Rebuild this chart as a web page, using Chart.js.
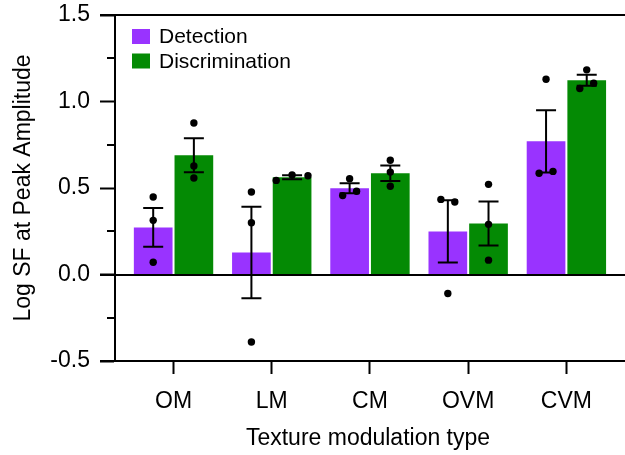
<!DOCTYPE html>
<html>
<head>
<meta charset="utf-8">
<script src="https://cdn.jsdelivr.net/npm/chart.js@4.4.1/dist/chart.umd.min.js"></script>
<style>
  html, body { margin: 0; padding: 0; background: #fff; }
  #wrap { width: 625px; height: 455px; }
</style>
</head>
<body>
<div id="wrap"><canvas id="chart" width="625" height="455"></canvas></div>
<script>
const categories = ['OM', 'LM', 'CM', 'OVM', 'CVM'];

// group means and SEM
const detectionMean = [0.272, 0.127, 0.498, 0.249, 0.770];
const detectionSem = [0.112, 0.265, 0.029, 0.180, 0.180];
const discriminationMean = [0.689, 0.562, 0.585, 0.295, 1.123];
const discriminationSem = [0.098, 0.012, 0.045, 0.127, 0.032];

// single observers, one row per modulation type
const detectionPoints = [
  [0.448, 0.313, 0.071],
  [0.477, 0.299, -0.390],
  [0.554, 0.456, 0.481],
  [0.434, 0.419, -0.110],
  [1.129, 0.585, 0.596]
];
const discriminationPoints = [
  [0.876, 0.627, 0.558],
  [0.544, 0.575, 0.571],
  [0.660, 0.592, 0.510],
  [0.521, 0.290, 0.083],
  [1.183, 1.075, 1.106]
];

const yMajor = [-0.5, 0.0, 0.5, 1.0, 1.5];
const yMinor = [-0.25, 0.25, 0.75, 1.25];

// layout bits
const PURPLE = '#9933FF';
const GREEN = '#048A04';
const FONT = "'Liberation Sans', Arial, sans-serif";
const CAT_PX = 99;      // width of one category on the x scale
const BAR_SHIFT = 20.5; // bar centre offset from category centre
const detectionSpread = [[0, 0, 0], [0, 0, 0], [0, -7, 7], [-7, 7, 0], [0, -7, 7]];
const discriminationSpread = [[0, 0, 0], [-16, 0, 16], [0, 0, 0], [0, 0, 0], [0, -7, 7]];

Chart.defaults.font.family = FONT;
Chart.defaults.font.size = 23;
Chart.defaults.color = '#000';

function dots(points, spread, shift) {
  const out = [];
  points.forEach((row, i) => {
    row.forEach((v, j) => {
      out.push({ x: i + (shift + spread[i][j]) / CAT_PX, y: v });
    });
  });
  return out;
}

const frame = {
  id: 'frame',
  afterDatasetDraw(chart, args) {
    if (args.index !== 0) return;
    const ctx = chart.ctx;
    const y = chart.scales.y;
    const left = chart.chartArea.left;
    ctx.save();
    ctx.strokeStyle = '#000';
    ctx.lineWidth = 2;
    ctx.beginPath();
    // top, zero and bottom rules
    [1.5, 0, -0.5].forEach(v => {
      const py = Math.round(y.getPixelForValue(v));
      ctx.moveTo(left - 15, py);
      ctx.lineTo(chart.width, py);
    });
    yMinor.forEach(v => {
      const py = Math.round(y.getPixelForValue(v));
      ctx.moveTo(left - 8, py);
      ctx.lineTo(left, py);
    });
    ctx.stroke();

    // error bars
    [[0, detectionMean, detectionSem], [1, discriminationMean, discriminationSem]].forEach(([d, mean, sem]) => {
      chart.getDatasetMeta(d).data.forEach((bar, i) => {
        const top = y.getPixelForValue(mean[i] + sem[i]);
        const bot = y.getPixelForValue(mean[i] - sem[i]);
        ctx.beginPath();
        ctx.moveTo(bar.x, top);
        ctx.lineTo(bar.x, bot);
        ctx.moveTo(bar.x - 10, top);
        ctx.lineTo(bar.x + 10, top);
        ctx.moveTo(bar.x - 10, bot);
        ctx.lineTo(bar.x + 10, bot);
        ctx.stroke();
      });
    });
    ctx.restore();
  },
  afterDraw(chart) {
    // legend in the top-left corner of the plot
    const ctx = chart.ctx;
    const x0 = chart.chartArea.left + 17;
    const y0 = chart.chartArea.top + 14;
    ctx.save();
    ctx.font = '21px ' + FONT;
    ctx.textBaseline = 'alphabetic';
    ctx.textAlign = 'left';
    chart.data.datasets.slice(0, 2).forEach((ds, i) => {
      const top = y0 + i * 24.5;
      ctx.fillStyle = ds.backgroundColor;
      ctx.fillRect(x0, top, 18, 15);
      ctx.fillStyle = '#000';
      ctx.fillText(ds.label, x0 + 27, top + 14);
    });
    ctx.restore();
  }
};

new Chart(document.getElementById('chart'), {
  type: 'bar',
  data: {
    datasets: [
      {
        label: 'Detection',
        data: detectionMean.map((v, i) => ({ x: i, y: v })),
        backgroundColor: PURPLE,
        borderWidth: 0,
        order: 1
      },
      {
        label: 'Discrimination',
        data: discriminationMean.map((v, i) => ({ x: i, y: v })),
        backgroundColor: GREEN,
        borderWidth: 0,
        order: 1
      },
      {
        type: 'scatter',
        label: 'detection points',
        data: dots(detectionPoints, detectionSpread, -BAR_SHIFT),
        backgroundColor: '#000',
        borderWidth: 0,
        pointRadius: 3.7,
        order: 0
      },
      {
        type: 'scatter',
        label: 'discrimination points',
        data: dots(discriminationPoints, discriminationSpread, BAR_SHIFT),
        backgroundColor: '#000',
        borderWidth: 0,
        pointRadius: 3.7,
        order: 0
      }
    ]
  },
  options: {
    responsive: false,
    animation: false,
    events: [],
    layout: { padding: { top: 15, right: 0, left: 0, bottom: 0 } },
    categoryPercentage: 82 / 99,
    barPercentage: 39 / 41,
    plugins: {
      tooltip: { enabled: false },
      legend: { display: false }
    },
    scales: {
      x: {
        type: 'linear',
        offset: false,
        min: -0.596,
        max: 4.556,
        afterBuildTicks: axis => { axis.ticks = categories.map((c, i) => ({ value: i })); },
        afterFit: axis => { axis.height = 94; axis.paddingLeft = 0; axis.paddingRight = 0; },
        ticks: {
          autoSkip: false,
          maxRotation: 0,
          padding: 14,
          callback: v => categories[v]
        },
        grid: { offset: false, drawOnChartArea: false, tickLength: 13, tickWidth: 2, tickColor: '#000' },
        border: { display: false },
        title: { display: true, text: 'Texture modulation type', padding: { top: 0, bottom: 3 } }
      },
      y: {
        min: -0.5,
        max: 1.5,
        afterFit: axis => { axis.width = 115; axis.paddingTop = 0; axis.paddingBottom = 0; },
        ticks: {
          stepSize: 0.25,
          autoSkip: false,
          padding: 10,
          callback: v => yMajor.includes(v) ? v.toFixed(1) : ''
        },
        grid: {
          drawOnChartArea: false,
          tickLength: 15,
          tickWidth: 2,
          tickColor: c => yMajor.includes(c.tick.value) ? '#000' : 'rgba(0,0,0,0)'
        },
        border: { color: '#000', width: 2 },
        title: { display: true, text: 'Log SF at Peak Amplitude', padding: { top: 10, bottom: 0 } }
      }
    }
  },
  plugins: [frame]
});
</script>
</body>
</html>
